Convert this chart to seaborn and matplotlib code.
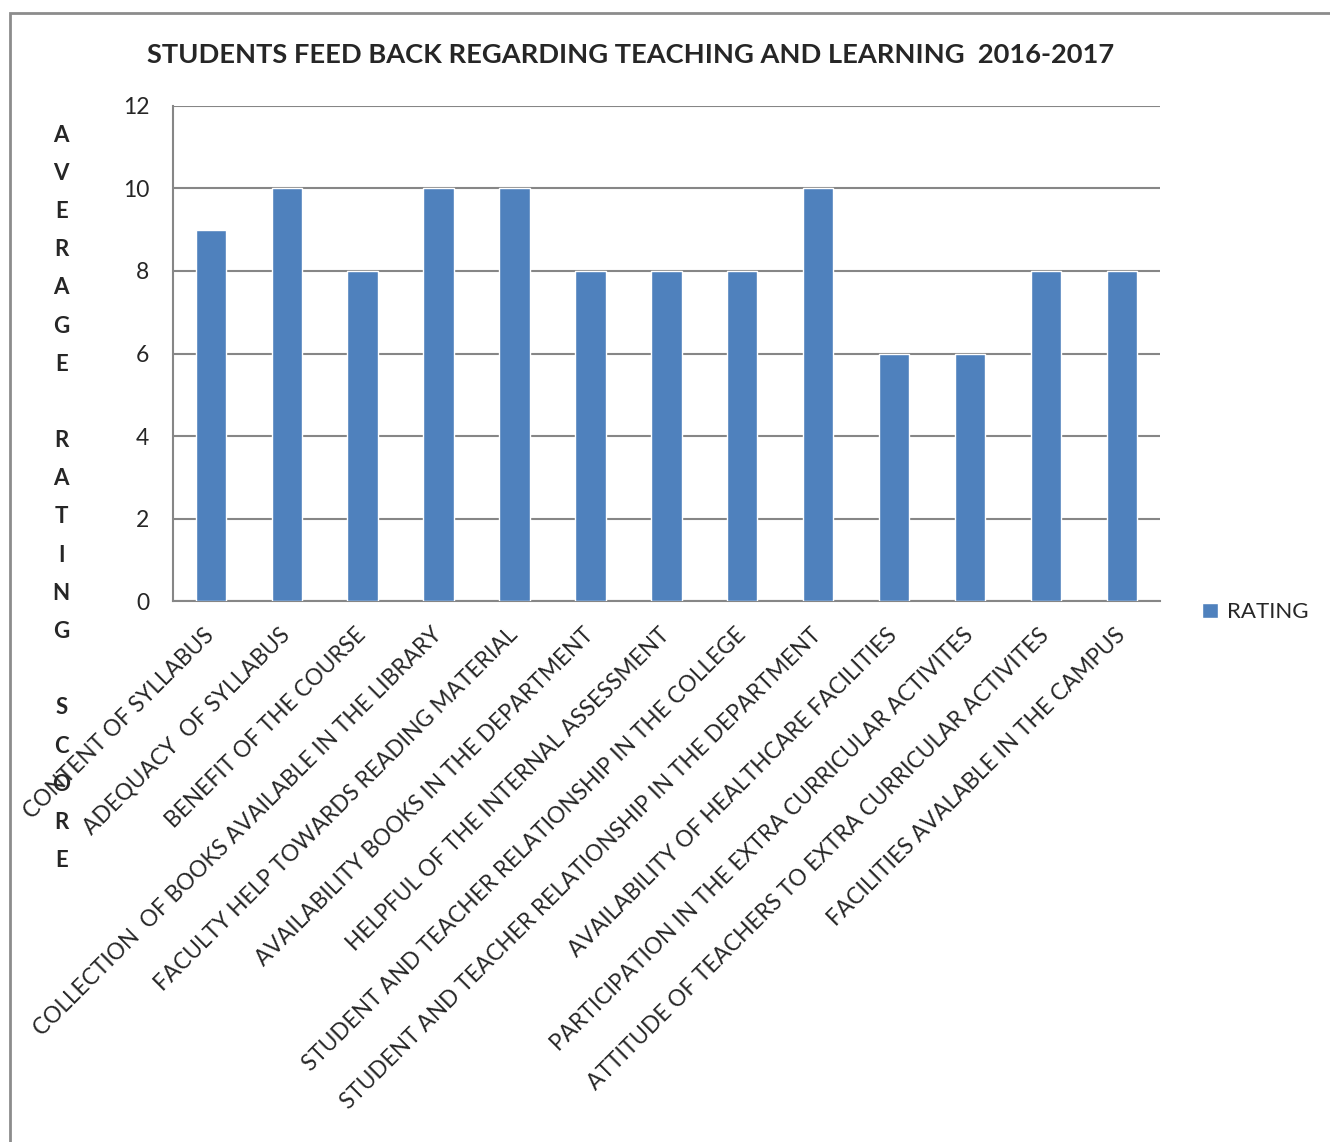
import matplotlib
matplotlib.use("Agg")
import matplotlib.pyplot as plt
from matplotlib.patches import Rectangle
import seaborn as sns

# --- data ---
categories = [
    "CONTENT OF SYLLABUS",
    "ADEQUACY  OF SYLLABUS",
    "BENEFIT OF THE COURSE",
    "COLLECTION  OF BOOKS AVAILABLE IN THE LIBRARY",
    "FACULTY HELP TOWARDS READING MATERIAL",
    "AVAILABILITY BOOKS IN THE DEPARTMENT",
    "HELPFUL OF THE INTERNAL ASSESSMENT",
    "STUDENT AND TEACHER RELATIONSHIP IN THE COLLEGE",
    "STUDENT AND TEACHER RELATIONSHIP IN THE DEPARTMENT",
    "AVAILABILITY OF HEALTHCARE FACILITIES",
    "PARTICIPATION IN THE EXTRA CURRICULAR ACTIVITES",
    "ATTITUDE OF TEACHERS TO EXTRA CURRICULAR ACTIVITES",
    "FACILITIES AVALABLE IN THE CAMPUS",
]
ratings = [9, 10, 8, 10, 10, 8, 8, 8, 10, 6, 6, 8, 8]
y_ticks = [0, 2, 4, 6, 8, 10, 12]

bar_color = "#4F81BD"
grid_color = "#868686"

sns.set_style("white")
plt.rcParams["font.family"] = ["Lato", "DejaVu Sans"]

fig = plt.figure(figsize=(13.3, 11.42), dpi=100)
ax = fig.add_axes([0.130, 0.4737, 0.742, 0.4335])

sns.barplot(x=categories, y=ratings, color=bar_color, saturation=1,
            width=0.4, label="RATING", ax=ax, zorder=3)

ax.set_xlim(-0.5, len(categories) - 0.5)
ax.set_ylim(0, 12)
ax.set_yticks(y_ticks)
ax.yaxis.grid(True, color=grid_color, lw=1.5, zorder=0)
ax.set_axisbelow(True)

# category labels at centres, tick marks at category boundaries
ax.set_xticks(range(len(categories)))
ax.set_xticklabels(categories, rotation=45, ha="right", va="center",
                   rotation_mode="anchor", fontsize=16.3)
ax.set_xticks([i - 0.5 for i in range(len(categories) + 1)], minor=True)
ax.tick_params(axis="x", which="major", length=0, pad=22)
ax.tick_params(axis="x", which="minor", length=7, width=1.5, color=grid_color)
ax.tick_params(axis="y", length=7, width=1.5, color=grid_color, labelsize=16.5, pad=10)

for side in ["top", "right"]:
    ax.spines[side].set_visible(False)
for side in ["left", "bottom"]:
    ax.spines[side].set_color(grid_color)
    ax.spines[side].set_linewidth(1.5)

ax.set_xlabel("")
ax.set_ylabel("")

fig.text(0.474, 0.952, "STUDENTS FEED BACK REGARDING TEACHING AND LEARNING  2016-2017",
         ha="center", va="center", fontsize=19.6, fontweight="bold")

# stacked vertical axis title, one letter per line
ylabel = "\n".join("AVERAGE RATING SCORE")
fig.text(0.046, 0.564, ylabel, ha="center", va="center", fontsize=16,
         fontweight="bold", linespacing=2.01)

ax.legend(loc="center left", bbox_to_anchor=(0.889, 0.464),
          bbox_transform=fig.transFigure, frameon=False, fontsize=16,
          handlelength=0.7, handleheight=0.7, handletextpad=0.4)

# outer chart border
fig.add_artist(Rectangle((0.0075, -0.05), 1.1, 1.0386, transform=fig.transFigure,
                         fill=False, edgecolor="#8c8c8c", lw=2))

fig.savefig("out.png", dpi=100)
